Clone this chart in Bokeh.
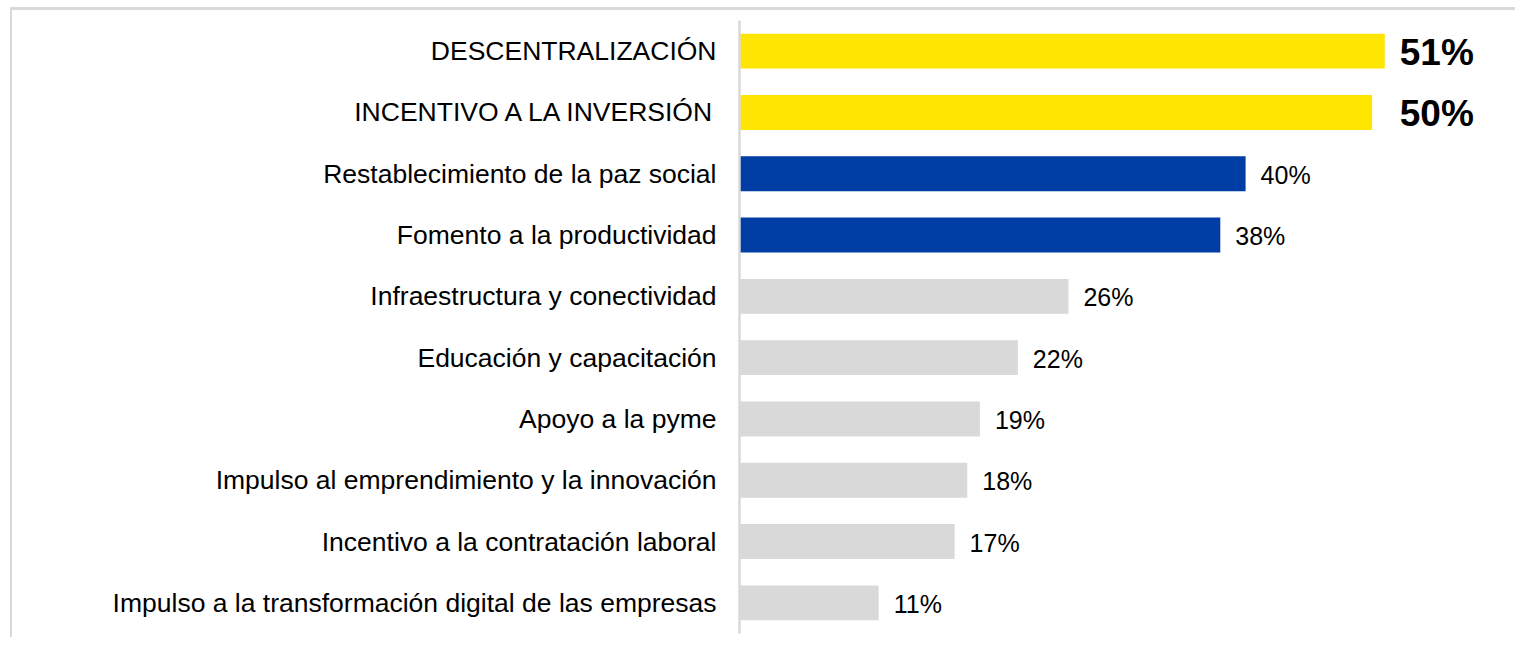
from bokeh.plotting import figure
from bokeh.models import ColumnDataSource, FactorRange
from bokeh.embed import file_html
from bokeh.resources import INLINE
from bokeh.core.properties import value

categories = [
    "DESCENTRALIZACIÓN",
    "INCENTIVO A LA INVERSIÓN",
    "Restablecimiento de la paz social",
    "Fomento a la productividad",
    "Infraestructura y conectividad",
    "Educación y capacitación",
    "Apoyo a la pyme",
    "Impulso al emprendimiento y la innovación",
    "Incentivo a la contratación laboral",
    "Impulso a la transformación digital de las empresas",
]
values = [51, 50, 40, 38, 26, 22, 19, 18, 17, 11]
tiers = ["top", "top", "mid", "mid", "rest", "rest", "rest", "rest", "rest", "rest"]

tier_color = {"top": "#FFE600", "mid": "#003DA5", "rest": "#D9D9D9"}
tier_size = {"top": "37px", "mid": "25px", "rest": "25px"}
tier_style = {"top": "bold", "mid": "normal", "rest": "normal"}

# highlighted labels are aligned in one column after the longest highlighted bar
top_max = max(v for v, t in zip(values, tiers) if t == "top")
label_x = [top_max if t == "top" else v for v, t in zip(values, tiers)]

source = ColumnDataSource(dict(
    cat=categories,
    val=values,
    lx=label_x,
    color=[tier_color[t] for t in tiers],
    label=[f"{v}%" for v in values],
    size=[tier_size[t] for t in tiers],
    style=[tier_style[t] for t in tiers],
))

p = figure(
    width=1505, height=630,
    y_range=FactorRange(*reversed(categories), range_padding=0),
    x_range=(0, 60.7),
    output_backend="svg", toolbar_location=None,
    min_border_left=727, min_border_top=10, min_border_bottom=7, min_border_right=10,
)
p.styles = {
    "border-top": "3px solid #D9D9D9",
    "border-left": "2px solid #D9D9D9",
    "margin-top": "7px",
    "margin-left": "10px",
}

p.hbar(y="cat", right="val", left=0, height=0.57, color="color", source=source, line_color=None)

p.text(x="lx", y="cat", text="label", source=source,
       x_offset=15, y_offset=1, text_align="left", text_baseline="middle",
       text_font=value("Liberation Sans"), text_font_size="size",
       text_font_style="style", text_color="#000000")

p.xaxis.visible = False
p.xgrid.visible = False
p.ygrid.visible = False
p.outline_line_color = None

ax = p.yaxis[0]
ax.axis_line_color = "#D9D9D9"
ax.axis_line_width = 2.5
ax.major_tick_line_color = None
ax.minor_tick_line_color = None
ax.major_tick_out = 0
ax.major_tick_in = 0
ax.major_label_standoff = 23
ax.major_label_text_font = "Liberation Sans"
ax.major_label_text_font_size = "26.5px"
ax.major_label_text_color = "#000000"

open("out.html", "w").write(file_html(p, INLINE))
